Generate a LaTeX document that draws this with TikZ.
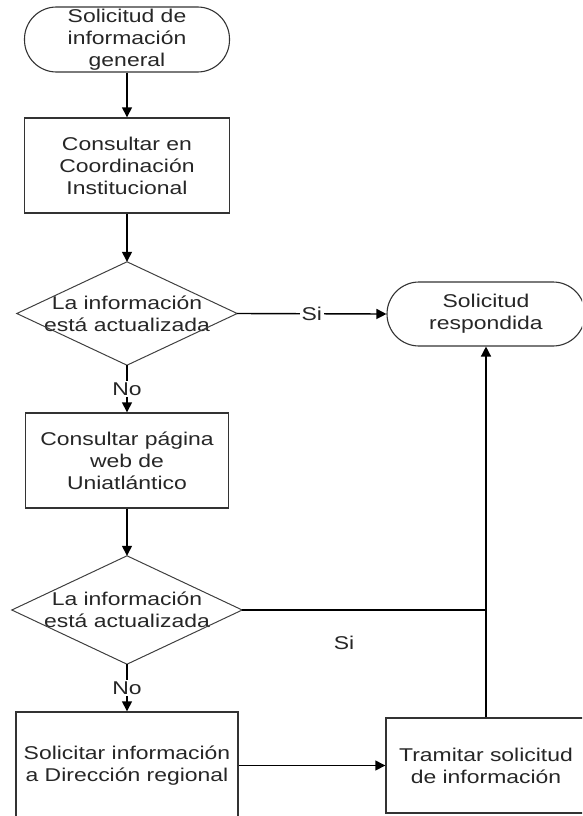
\documentclass[tikz,border=0pt]{standalone}
\usepackage{fontspec}
\setmainfont[FakeStretch=1.24]{Liberation Sans}
\usetikzlibrary{arrows.meta}

\begin{document}
\begin{tikzpicture}[x=1pt,y=-1pt,
  every node/.style={font=\fontsize{18.5}{22}\selectfont, text=black!85, align=center, inner sep=0pt},
  term/.style={draw=black!80, line width=1.1pt, rounded corners=32pt},
  proc/.style={draw=black!80, line width=1.4pt},
  dia/.style={draw=black!75, line width=1pt},
  link/.style={draw=black, line width=1.4pt, -{Triangle[length=10pt,width=10pt]}},
  plain/.style={draw=black, line width=1.2pt},
  lbl/.style={fill=white, inner sep=1.5pt}]

\useasboundingbox (0,0) rectangle (582,816);
\clip (0,0) rectangle (582,816);

% shapes
\node[term, minimum width=205pt, minimum height=65pt] (t1) at (127,39.5)
  {Solicitud de\\información\\general};
\node[proc, minimum width=205pt, minimum height=95pt] (b1) at (127,165.5)
  {Consultar en\\Coordinación\\Institucional};
\node[minimum width=220pt, minimum height=103pt] (d1) at (127,313.5)
  {La información\\está actualizada};
\draw[dia] (d1.north) -- (d1.east) -- (d1.south) -- (d1.west) -- cycle;
\node[term, minimum width=198pt, minimum height=64pt] (t2) at (486,314)
  {Solicitud\\respondida};
\node[proc, minimum width=203pt, minimum height=95pt] (b2) at (127,460.5)
  {Consultar página\\web de\\Uniatlántico};
\node[minimum width=230pt, minimum height=108pt] (d2) at (127,610)
  {La información\\está actualizada};
\draw[dia] (d2.north) -- (d2.east) -- (d2.south) -- (d2.west) -- cycle;
\node[proc, minimum width=222pt, minimum height=108pt] (b3) at (127,766)
  {Solicitar información\\a Dirección regional};
\node[proc, minimum width=200pt, minimum height=95pt] (b4) at (486,765.5)
  {Tramitar solicitud\\de información};

% connectors
\draw[link] (t1.south) -- (b1.north);
\draw[link] (b1.south) -- (d1.north);
\draw[link] (d1.east) -- node[lbl] {Si} (t2.west);
\draw[link] (d1.south) -- node[lbl] {No} (b2.north);
\draw[link] (b2.south) -- (d2.north);
\draw[link] (d2.south) -- node[lbl] {No} (b3.north);
\draw[plain] (d2.east) -- (d2.east -| b4.north);
\node (s2) at (344,643) {Si};
\draw[link] (b4.west -| b3.east) -- (b4.west);
\draw[link] (b4.north) -- (t2.south);
\end{tikzpicture}
\end{document}
